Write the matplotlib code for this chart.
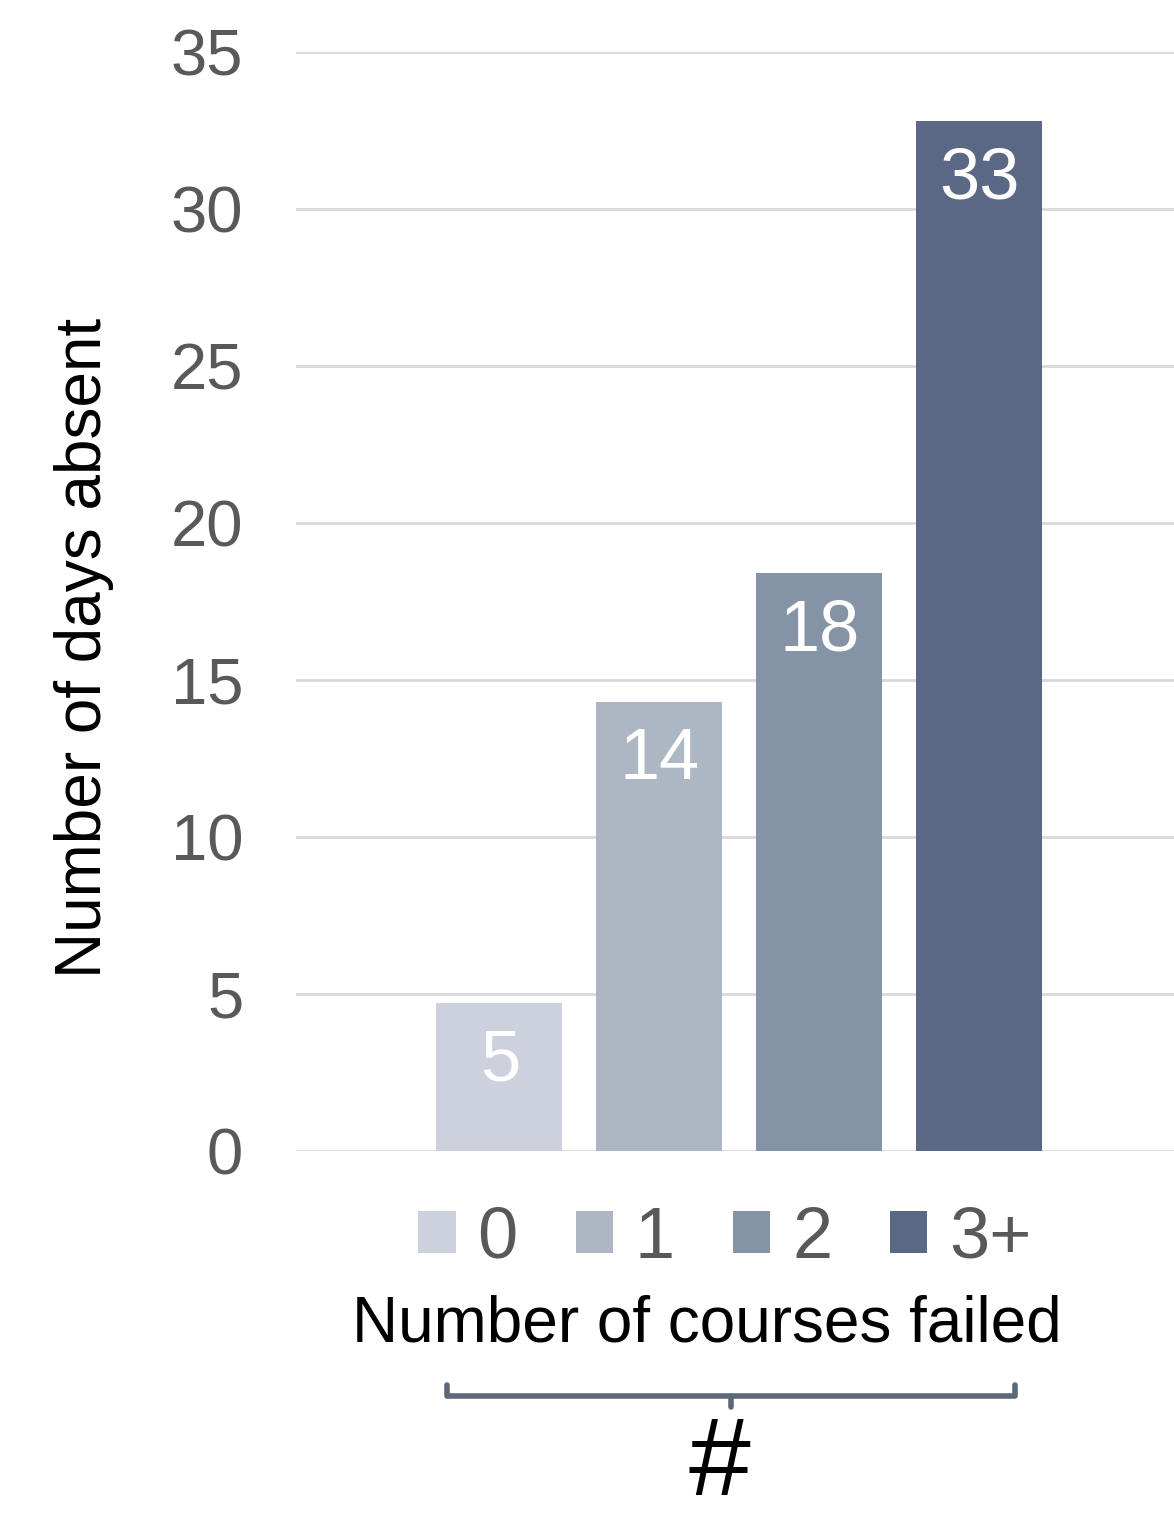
import matplotlib
matplotlib.use("Agg")
import matplotlib.pyplot as plt
from matplotlib.lines import Line2D
from matplotlib.patches import Patch

plt.rcParams["font.family"] = ["Liberation Sans", "DejaVu Sans"]

# Data
categories = ["0", "1", "2", "3+"]
days_absent = [4.7, 14.3, 18.4, 32.8]
colors = ["#cdd1dd", "#adb6c3", "#8593a6", "#5b6885"]
yticks = [0, 5, 10, 15, 20, 25, 30, 35]

W, H = 1174, 1519
fig = plt.figure(figsize=(W / 100, H / 100), dpi=100)


def fx(px):
    return px / W


def fy(py):
    return 1 - py / H


# Plot area
ax = fig.add_axes([fx(296), fy(1151), fx(1174) - fx(296), fy(52) - fy(1151)])
x = list(range(len(categories)))
bars = ax.bar(x, days_absent, width=0.7875, color=colors, zorder=3)
ax.set_xlim(-1.269, 3.219 + 1.0)
ax.set_ylim(0, 35)
ax.set_yticks(yticks)
ax.set_yticklabels([str(t) for t in yticks], fontsize=47, color="#595959")
ax.tick_params(axis="y", length=0, pad=38)
ax.set_xticks([])
for s in ax.spines.values():
    s.set_visible(False)
ax.yaxis.grid(True, color="#d9d9d9", linewidth=2, zorder=0)
ax.set_axisbelow(True)

# Value labels inside the bars
for b, v in zip(bars, days_absent):
    ax.annotate(f"{v:.0f}", (b.get_x() + b.get_width() / 2, v),
                xytext=(1, -25), textcoords="offset pixels",
                ha="center", va="top", fontsize=52, color="white")

# Axis titles
fig.text(fx(84), fy(648), "Number of days absent", rotation=90,
         ha="center", va="center", fontsize=46, color="black")
fig.text(fx(707), fy(1324), "Number of courses failed",
         ha="center", va="center", fontsize=46, color="black")

# Legend
handles = [Patch(facecolor=c, edgecolor="none") for c in colors]
fig.legend(handles, categories, loc="center", ncol=4,
           bbox_to_anchor=(fx(725), fy(1239)), frameon=False,
           fontsize=52, labelcolor="#595959",
           handlelength=0.52, handleheight=0.52, handletextpad=0.3,
           columnspacing=0.8, borderpad=0)

# Bracket under the axis title
bc = "#5a6877"
fig.add_artist(Line2D([fx(447), fx(447), fx(1015), fx(1015)],
                      [fy(1385), fy(1396), fy(1396), fy(1385)],
                      color=bc, linewidth=4, solid_joinstyle="round",
                      solid_capstyle="round"))
fig.add_artist(Line2D([fx(731), fx(731)], [fy(1396), fy(1407)],
                      color=bc, linewidth=4, solid_capstyle="round"))

fig.text(fx(719), fy(1518), "#", ha="center", va="bottom",
         fontsize=80, color="black")

fig.savefig("out.png", dpi=100)
